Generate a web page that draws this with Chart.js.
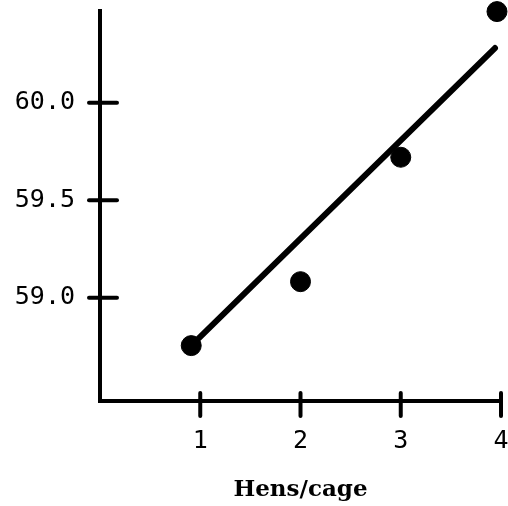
<!DOCTYPE html>
<html>
<head>
<meta charset="utf-8">
<script src="https://cdn.jsdelivr.net/npm/chart.js@4/dist/chart.umd.min.js"></script>
<style>
  html, body { margin: 0; padding: 0; background: #fff; }
  #wrap { width: 508px; height: 506px; }
</style>
</head>
<body>
<div id="wrap"><canvas id="c" width="508" height="506"></canvas></div>
<script>
// Observed means by cage density
const hensPerCage = [0.91, 2.0, 3.0, 3.96];
const meanValues = [58.754, 59.082, 59.72, 60.467];

// Fitted trend line endpoints
const fitX = [0.91, 3.94];
const fitY = [58.754, 60.28];

// Axis ticks
const xTicks = [1, 2, 3, 4];
const yTicks = [59.0, 59.5, 60.0];
const xTitle = 'Hens/cage';

const ink = '#000';
const tickFont = { family: '"DejaVu Sans Mono", monospace', size: 25 };

// Tick marks that cross the axis lines on both sides
const crossTicks = {
  id: 'crossTicks',
  afterDraw(chart) {
    const ctx = chart.ctx;
    const xs = chart.scales.x, ys = chart.scales.y;
    const a = chart.chartArea;
    ctx.save();
    ctx.strokeStyle = ink;
    ctx.lineWidth = 4;
    ctx.lineCap = 'round';
    ys.ticks.forEach(t => {
      const y = ys.getPixelForValue(t.value);
      ctx.beginPath();
      ctx.moveTo(a.left - 11, y);
      ctx.lineTo(a.left + 17, y);
      ctx.stroke();
    });
    xs.ticks.forEach(t => {
      const x = xs.getPixelForValue(t.value);
      ctx.beginPath();
      ctx.moveTo(x, a.bottom - 8);
      ctx.lineTo(x, a.bottom + 15);
      ctx.stroke();
    });
    ctx.restore();
  }
};

// Keep tick labels from pushing the plot area inward
function noEdgePadding(s) {
  s.paddingLeft = 0; s.paddingRight = 0; s.paddingTop = 0; s.paddingBottom = 0;
}

new Chart(document.getElementById('c'), {
  type: 'scatter',
  data: {
    datasets: [
      {
        type: 'line',
        data: fitX.map((x, i) => ({ x, y: fitY[i] })),
        borderColor: ink,
        borderWidth: 6,
        borderCapStyle: 'round',
        pointRadius: 0,
        clip: false,
        order: 2
      },
      {
        data: hensPerCage.map((x, i) => ({ x, y: meanValues[i] })),
        backgroundColor: ink,
        borderColor: ink,
        pointRadius: 10,
        pointHoverRadius: 10,
        clip: false,
        order: 1
      }
    ]
  },
  options: {
    responsive: false,
    animation: false,
    events: [],
    layout: { autoPadding: false, padding: { top: 11, right: 7, left: 0, bottom: 0 } },
    plugins: { legend: { display: false }, tooltip: { enabled: false } },
    scales: {
      x: {
        type: 'linear',
        min: 0,
        max: 4,
        afterBuildTicks(s) { s.ticks = xTicks.map(v => ({ value: v })); },
        afterFit(s) { s.height = 105; noEdgePadding(s); },
        grid: { display: false },
        border: { display: true, color: ink, width: 4 },
        ticks: {
          color: ink,
          font: tickFont,
          padding: 17,
          maxRotation: 0,
          callback: v => String(v)
        },
        title: {
          display: true,
          text: xTitle,
          color: ink,
          font: { family: '"DejaVu Serif", serif', size: 23, weight: 'bold' },
          padding: { top: 6, bottom: 2 }
        }
      },
      y: {
        type: 'linear',
        min: 58.47,
        max: 60.47,
        afterBuildTicks(s) { s.ticks = yTicks.map(v => ({ value: v })); },
        afterFit(s) { s.width = 100; noEdgePadding(s); },
        grid: { display: false },
        border: { display: true, color: ink, width: 4 },
        ticks: {
          color: ink,
          font: tickFont,
          padding: 17,
          callback: v => v.toFixed(1)
        }
      }
    }
  },
  plugins: [crossTicks]
});
</script>
</body>
</html>
